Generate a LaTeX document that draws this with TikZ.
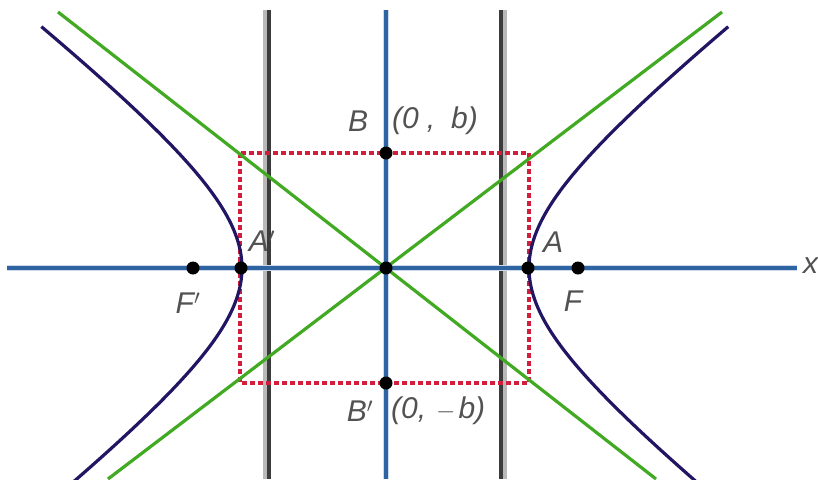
\documentclass[tikz,border=0pt]{standalone}
\usepackage{fontspec}
\setmainfont{Liberation Sans}
\definecolor{axisblue}{RGB}{46,100,162}
\definecolor{halob}{RGB}{205,218,235}
\definecolor{dirdark}{RGB}{60,60,60}
\definecolor{dirlight}{RGB}{185,185,185}
\definecolor{asgreen}{RGB}{66,170,34}
\definecolor{hypnavy}{RGB}{34,22,100}
\definecolor{boxred}{RGB}{210,30,60}
\begin{document}
\begin{tikzpicture}[x=1pt,y=-1pt,
  axisline/.style={line width=3.2pt,color=axisblue},
  axishalo/.style={line width=6pt,color=halob},
  dirline/.style={line width=4pt,color=dirdark},
  dirhalo/.style={line width=7pt,color=dirlight},
  asym/.style={line width=3.2pt,color=asgreen},
  hyp/.style={line width=3.2pt,color=hypnavy},
  rectbox/.style={line width=3.2pt,color=boxred,dash pattern=on 5pt off 3pt},
  pt/.style={circle,fill=black,inner sep=0pt,minimum size=13pt},
  lbl/.style={font=\fontsize{30}{30}\selectfont\itshape,text=black!68,inner sep=0pt}]
\useasboundingbox (0,0) rectangle (818,479);
\begin{scope}
\clip (0,0) rectangle (818,479);
% directrices
\draw[dirhalo] (266,10) -- (266,479);
\draw[dirline] (269,10) -- (269,479);
\draw[dirhalo] (503,10) -- (503,479);
\draw[dirline] (500.5,10) -- (500.5,479);
% axes
\coordinate (xl) at (7,268);
\coordinate (xr) at (797,268);
\coordinate (yt) at (386,10);
\coordinate (yb) at (386,479);
\draw[axishalo] (xl) -- (xr);
\draw[axishalo] (yt) -- (yb);
\draw[axisline] (xl) -- (xr);
\draw[axisline] (yt) -- (yb);
% rectangle
\draw[rectbox] (240,153) rectangle (529,383);
% asymptotes
\coordinate (g1a) at (58,12);
\coordinate (g1b) at (656,479);
\coordinate (g2a) at (722,12);
\coordinate (g2b) at (108,479);
\draw[asym] (g1a) -- (g1b);
\draw[asym] (g2a) -- (g2b);
% hyperbola
\draw[hyp] plot[domain=-1.62:1.52,samples=80,smooth,variable=\t] ({386-144*cosh(\t)},{268-111*sinh(\t)});
\draw[hyp] plot[domain=-1.62:1.52,samples=80,smooth,variable=\t] ({386+143*cosh(\t)},{268-111*sinh(\t)});
\end{scope}
% points
\node[pt] (Fp) at (193,268) {};
\node[pt] (Ap) at (241,268) {};
\node[pt] (O) at (386,268) {};
\node[pt] (A) at (528,268) {};
\node[pt] (F) at (578,268) {};
\node[pt] (B) at (386,153) {};
\node[pt] (Bp) at (386,383) {};
% labels
\node[lbl] (lB) at (358,121) {B};
\node[lbl,anchor=west] (lB2) at (392,121) {(0\hspace{8pt},\hspace{16pt}b)};
\node[lbl] (lBp) at (360,411) {B$'$};
\node[lbl,anchor=west] (lBp2) at (391,411) {(0,\hspace{10pt}$-$\hspace{3pt}b)};
\node[lbl] (lAp) at (262,241) {A$'$};
\node[lbl] (lFp) at (188,303) {F$'$};
\node[lbl] (lA) at (553,242) {A};
\node[lbl] (lF) at (573,301) {F};
\node[lbl,anchor=west] (lx) at (803,266) {x};
\end{tikzpicture}
\end{document}
